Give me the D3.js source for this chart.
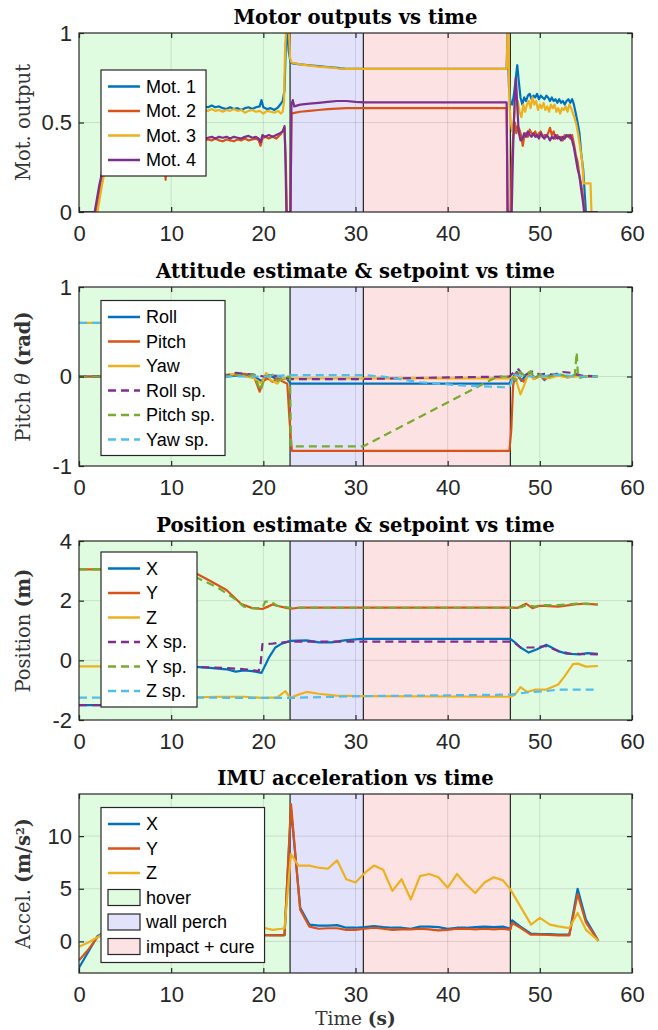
<!DOCTYPE html>
<html><head><meta charset="utf-8">
<script src="https://cdn.jsdelivr.net/npm/d3@7"></script>
<style>body{margin:0;background:#fff} svg{display:block}</style>
</head><body>
<svg id="chart" width="658" height="1030"></svg>
<script>
// ---------------- DATA ----------------
const timeTicks = [0,10,20,30,40,50,60];
const timeTickLabels = ["0","10","20","30","40","50","60"];
const phaseNames = ["hover","wall perch","impact + cure"];
const phaseSpans = [[0,22.9,"hover"],[22.9,30.85,"wall perch"],[30.85,46.8,"impact + cure"],[46.8,60,"hover"]];
const phaseBounds = [22.9,30.85,46.8];

const titles = ["Motor outputs vs time","Attitude estimate & setpoint vs time","Position estimate & setpoint vs time","IMU acceleration vs time"];

// Panel 1: motor outputs
const motorNames = ["Mot. 1","Mot. 2","Mot. 3","Mot. 4"];
const motorTicks = [0,0.5,1];
const motorTickLabels = ["0","0.5","1"];
const mot1 = [[0,0],[1.8,0],[2.3,0.15],[2.8,0.3],[3.5,0.48],[4.5,0.56],[6,0.58],[8,0.58],[10,0.59],[12,0.58],[13.2,0.585],[13.6,0.59],[14,0.585],[14.4,0.595],[14.8,0.585],[15.2,0.59],[15.6,0.58],[16,0.575],[16.4,0.585],[16.8,0.575],[17.2,0.58],[17.6,0.57],[18,0.58],[18.4,0.585],[18.8,0.575],[19.2,0.585],[19.6,0.59],[19.8,0.625],[20,0.585],[20.4,0.575],[20.8,0.58],[21.2,0.57],[21.6,0.585],[21.9,0.605],[22.1,0.62],[22.3,0.68],[22.45,0.95],[22.6,1.0],[22.75,0.9],[22.95,0.835],[23.2,0.83],[24,0.825],[25,0.82],[26,0.815],[27,0.81],[28,0.805],[29,0.8],[30,0.8],[46.4,0.8],[46.5,1.0],[46.65,0.7],[46.8,0.62],[47.0,0.6],[47.2,0.66],[47.4,0.75],[47.55,0.82],[47.7,0.74],[47.9,0.64],[48.1,0.6],[48.3,0.64],[48.5,0.62],[48.7,0.65],[48.9,0.66],[49.1,0.63],[49.3,0.65],[49.5,0.64],[49.7,0.66],[49.9,0.63],[50.1,0.65],[50.3,0.64],[50.5,0.63],[50.7,0.65],[50.9,0.64],[51.1,0.62],[51.3,0.64],[51.5,0.62],[51.7,0.63],[51.9,0.61],[52.1,0.63],[52.3,0.61],[52.5,0.62],[52.7,0.6],[52.9,0.62],[53.1,0.63],[53.3,0.61],[53.5,0.63],[53.7,0.6],[53.9,0.55],[54.1,0.5],[54.3,0.44],[54.5,0.32],[54.7,0.24],[54.85,0.12],[55.0,0.0],[56.3,0]];
const mot2 = [[0,0],[1.8,0],[2.4,0.15],[3.0,0.3],[3.6,0.38],[5,0.4],[7,0.4],[9,0.4],[9.3,0.3],[9.4,0.18],[9.5,0.35],[10,0.4],[12,0.4],[13.6,0.4],[14,0.405],[14.4,0.4],[14.8,0.41],[15.2,0.4],[15.6,0.395],[16,0.405],[16.4,0.4],[16.8,0.395],[17.2,0.405],[17.6,0.4],[18,0.41],[18.4,0.4],[18.8,0.405],[19.2,0.41],[19.5,0.4],[19.7,0.37],[19.9,0.41],[20.2,0.42],[20.6,0.41],[21,0.42],[21.4,0.41],[21.8,0.43],[22.1,0.45],[22.3,0.47],[22.45,0.25],[22.55,0.0],[22.95,0.0],[23.05,0.55],[23.5,0.555],[24,0.56],[25,0.565],[26,0.57],[27,0.575],[28,0.578],[29,0.58],[30,0.58],[46.4,0.58],[46.5,0.0],[46.85,0.0],[46.95,0.25],[47.1,0.42],[47.3,0.5],[47.45,0.44],[47.6,0.48],[47.8,0.46],[48.0,0.42],[48.15,0.37],[48.3,0.42],[48.5,0.44],[48.7,0.42],[48.9,0.46],[49.1,0.44],[49.3,0.43],[49.5,0.45],[49.7,0.42],[49.9,0.44],[50.1,0.45],[50.3,0.42],[50.5,0.43],[50.7,0.42],[50.9,0.44],[51.1,0.47],[51.3,0.43],[51.5,0.45],[51.7,0.41],[51.9,0.43],[52.1,0.41],[52.3,0.42],[52.5,0.4],[52.7,0.43],[52.9,0.42],[53.1,0.43],[53.3,0.41],[53.5,0.43],[53.7,0.38],[53.9,0.32],[54.1,0.28],[54.3,0.2],[54.5,0.15],[54.7,0.08],[54.85,0.0],[56.3,0]];
const mot3 = [[0,0],[2.0,0],[2.5,0.15],[3.1,0.32],[3.8,0.47],[4.6,0.55],[6,0.565],[8,0.57],[10,0.57],[12,0.565],[13.6,0.57],[14,0.565],[14.4,0.575],[14.8,0.565],[15.2,0.57],[15.6,0.56],[16,0.57],[16.4,0.565],[16.8,0.575],[17.2,0.565],[17.6,0.57],[18,0.555],[18.4,0.565],[18.8,0.57],[19.2,0.56],[19.6,0.565],[20,0.55],[20.4,0.565],[20.8,0.56],[21.2,0.555],[21.6,0.565],[21.9,0.55],[22.1,0.56],[22.25,0.62],[22.35,0.9],[22.45,1.0],[22.8,1.0],[22.9,0.86],[23.05,0.835],[24,0.825],[25,0.818],[26,0.812],[27,0.808],[28,0.803],[29,0.8],[30,0.8],[46.4,0.8],[46.5,1.0],[46.6,1.0],[46.7,0.6],[46.85,0.5],[47.0,0.45],[47.2,0.52],[47.4,0.6],[47.6,0.62],[47.8,0.56],[48.0,0.53],[48.2,0.6],[48.4,0.56],[48.6,0.6],[48.8,0.62],[49.0,0.58],[49.2,0.64],[49.4,0.6],[49.6,0.62],[49.8,0.57],[50.0,0.6],[50.2,0.58],[50.4,0.61],[50.6,0.57],[50.8,0.59],[51.0,0.56],[51.2,0.6],[51.4,0.58],[51.6,0.6],[51.8,0.56],[52.0,0.58],[52.2,0.55],[52.4,0.58],[52.6,0.57],[52.8,0.59],[53.0,0.56],[53.2,0.6],[53.4,0.58],[53.6,0.55],[53.8,0.52],[54.0,0.48],[54.2,0.42],[54.4,0.35],[54.6,0.28],[54.75,0.16],[55.5,0.16],[55.6,0.0],[56.3,0]];
const mot4 = [[0,0],[1.7,0],[2.2,0.15],[2.7,0.27],[3.3,0.36],[4.3,0.4],[6,0.41],[8,0.41],[10,0.41],[12,0.41],[13.6,0.41],[14,0.415],[14.4,0.42],[14.8,0.41],[15.2,0.42],[15.6,0.415],[16,0.42],[16.4,0.41],[16.8,0.42],[17.2,0.415],[17.6,0.41],[18,0.42],[18.4,0.425],[18.8,0.415],[19.2,0.42],[19.5,0.41],[19.7,0.39],[19.9,0.43],[20.2,0.42],[20.6,0.43],[21,0.42],[21.4,0.43],[21.8,0.44],[22.1,0.45],[22.3,0.48],[22.4,0.3],[22.5,0.0],[22.95,0.0],[23.05,0.6],[23.2,0.625],[23.35,0.59],[24,0.6],[25,0.605],[26,0.61],[27,0.615],[28,0.62],[29,0.62],[30,0.615],[31,0.612],[46.4,0.612],[46.5,0.0],[46.95,0.0],[47.1,0.35],[47.25,0.6],[47.4,0.75],[47.55,0.6],[47.7,0.45],[47.9,0.4],[48.1,0.41],[48.3,0.44],[48.5,0.42],[48.7,0.45],[48.9,0.43],[49.1,0.42],[49.3,0.44],[49.5,0.42],[49.7,0.43],[49.9,0.41],[50.1,0.44],[50.3,0.42],[50.5,0.41],[50.7,0.43],[50.9,0.42],[51.1,0.4],[51.3,0.42],[51.5,0.41],[51.7,0.43],[51.9,0.41],[52.1,0.42],[52.3,0.4],[52.5,0.42],[52.7,0.41],[52.9,0.43],[53.1,0.42],[53.3,0.43],[53.5,0.4],[53.7,0.36],[53.9,0.3],[54.1,0.24],[54.3,0.2],[54.5,0.12],[54.7,0.05],[54.8,0.0],[56.3,0]];

// Panel 2: attitude
const attNames = ["Roll","Pitch","Yaw","Roll sp.","Pitch sp.","Yaw sp."];
const attTicks = [-1,0,1];
const attTickLabels = ["-1","0","1"];
const roll = [[0,0],[16,0],[17,0.01],[18,0.02],[19,0.0],[19.8,-0.05],[20.5,0.02],[21.5,-0.03],[22.5,-0.02],[23,-0.08],[46.7,-0.08],[47,-0.02],[47.5,0.05],[48,-0.05],[48.5,0.02],[49,0.03],[49.5,-0.02],[50,0.02],[50.5,-0.04],[51,0.01],[52,0.02],[53,0.0],[54,0.01],[55,0],[56.3,0]];
const pitch = [[0,0],[16,0],[17,0.02],[18,0.03],[19,0.0],[19.6,-0.17],[20,-0.05],[20.5,-0.02],[21,-0.06],[21.5,-0.02],[22,-0.05],[22.6,-0.08],[22.85,-0.5],[23.1,-0.83],[46.7,-0.83],[46.9,-0.6],[47.1,-0.1],[47.4,0.04],[47.8,-0.02],[48.3,-0.06],[48.8,0.03],[49.3,-0.02],[50,0.01],[50.5,-0.03],[51,0.0],[52,0.02],[53,-0.01],[54,0.01],[55,0],[56.3,0]];
const yaw = [[0,0.6],[3.5,0.6],[4,0.02],[16,0.02],[17,0.03],[18,0.0],[19,-0.02],[19.8,-0.08],[20.3,0.04],[20.8,-0.04],[21.5,-0.08],[22,-0.02],[23,-0.02],[46.7,-0.02],[47.3,0.0],[47.9,-0.2],[48.3,-0.1],[48.8,0.05],[49.3,-0.03],[50,0.0],[51,-0.02],[52,0.01],[53,-0.01],[54,0.0],[56.3,0]];
const rollSp = [[0,0],[16,0.01],[17,0.04],[18,0.03],[19,0.02],[20,0.0],[21,0.01],[22,0.0],[23,-0.03],[30,-0.03],[35,-0.02],[40,-0.01],[46.7,0.0],[47.3,0.06],[47.7,0.08],[48.2,0.0],[48.8,0.04],[49.3,0.06],[50,0.02],[50.5,0.03],[51.5,0.02],[52.5,0.05],[53.5,0.04],[54.5,0.01],[56.3,0]];
const pitchSp = [[0,0],[16,0],[17,0.02],[18,0.0],[19,0.02],[19.7,-0.16],[20.2,0.0],[21,0.02],[21.5,-0.05],[22.5,0.0],[22.9,0.0],[23.0,-0.78],[30.85,-0.78],[45.4,0.0],[47,0.0],[47.4,-0.05],[47.8,0.05],[48.5,0.0],[49,0.06],[49.5,-0.02],[50,0.02],[51,0.0],[52,0.03],[53,0.0],[53.8,0.02],[54.0,0.27],[54.15,-0.02],[55,0],[56.3,0]];
const yawSp = [[0,0.6],[3.5,0.6],[4,0.0],[16,0],[20,0],[23,0.015],[30.9,0.015],[33,0.0],[37,-0.064],[41.5,-0.1],[46.1,-0.12],[46.7,-0.12],[47.2,0.02],[48,0.0],[50,0.0],[52,0.02],[54,0.0],[56.3,0]];

// Panel 3: position
const posNames = ["X","Y","Z","X sp.","Y sp.","Z sp."];
const posTicks = [-2,0,2,4];
const posTickLabels = ["-2","0","2","4"];
const posX = [[0,-1.5],[4,-1.5],[6,-0.5],[8,-0.2],[12.67,-0.22],[14.2,-0.25],[16,-0.3],[17,-0.38],[17.9,-0.34],[18.8,-0.36],[19.8,-0.42],[20.6,0.09],[21.3,0.43],[22,0.56],[22.9,0.65],[24.7,0.67],[26,0.6],[27.4,0.6],[28.8,0.67],[30.6,0.72],[46.8,0.72],[47.3,0.6],[47.9,0.43],[48.8,0.26],[49.7,0.37],[50.7,0.52],[52,0.31],[52.9,0.22],[54.3,0.2],[55.2,0.24],[56.3,0.22]];
const posY = [[0,3.05],[10,3.05],[12.67,2.92],[14.2,2.67],[16,2.36],[17.6,1.89],[18.8,1.75],[19.9,1.72],[20.5,1.8],[21,1.87],[21.6,1.82],[22.5,1.76],[23,1.73],[24,1.77],[46.8,1.77],[47.6,1.76],[48.5,1.9],[49.2,1.75],[50,1.83],[51,1.82],[52,1.8],[53,1.84],[54,1.88],[55,1.9],[56.3,1.87]];
const posZ = [[0,-0.2],[3,-0.2],[5,-1.2],[12.67,-1.24],[15,-1.22],[18,-1.22],[19.9,-1.26],[21.5,-1.24],[22.4,-1.03],[22.9,-1.26],[23.8,-1.15],[24.7,-1.06],[26,-1.12],[27.9,-1.18],[30.6,-1.2],[46.8,-1.22],[47.3,-1.15],[47.9,-0.9],[48.6,-1.06],[49.5,-0.98],[50.7,-0.98],[52,-0.81],[52.7,-0.53],[53.6,-0.13],[54.1,-0.11],[55,-0.21],[56.3,-0.19]];
const posXSp = [[0,-1.5],[3,-1.5],[3.5,-0.22],[12.67,-0.22],[16,-0.26],[18,-0.3],[19.5,-0.36],[19.7,-0.13],[19.9,0.54],[21,0.56],[22.9,0.63],[46.8,0.63],[47.2,0.6],[47.9,0.43],[49.3,0.43],[50.7,0.48],[52,0.31],[53.4,0.22],[56.3,0.2]];
const posYSp = [[0,3.05],[10,3.05],[12.85,2.76],[15.1,2.43],[16.9,2.06],[17.9,1.8],[18.8,1.75],[19.9,1.75],[20.2,1.97],[20.8,1.97],[21.5,1.83],[22.9,1.76],[46.8,1.76],[48,1.78],[48.5,1.85],[49.5,1.8],[50,1.85],[52,1.85],[54,1.9],[56.3,1.88]];
const posZSp = [[0,-1.25],[12.67,-1.25],[20,-1.26],[22.9,-1.26],[30.6,-1.2],[46.8,-1.15],[48.8,-1.07],[50.7,-1.03],[52,-0.98],[56.3,-0.98]];

// Panel 4: IMU acceleration
const accNames = ["X","Y","Z"];
const accTicks = [0,5,10];
const accTickLabels = ["0","5","10"];
const accX = [[0,-2.5],[1,-1.0],[2,0.5],[3,1.0],[5,0.8],[10,0.9],[15,0.8],[20,0.6],[21,0.6],[22,0.6],[22.3,0.6],[23,12.6],[24,3.2],[25,1.6],[26,1.5],[27,1.5],[28,1.55],[29,1.3],[30,1.3],[31,1.35],[32,1.45],[33,1.35],[34,1.3],[35,1.3],[36,1.2],[37,1.4],[38,1.4],[39,1.35],[40,1.2],[41,1.3],[42,1.3],[43,1.35],[44,1.4],[45,1.35],[46,1.4],[46.8,1.2],[47,2.0],[47.9,1.4],[49,0.75],[50,0.7],[51,0.7],[52,0.65],[53.2,0.65],[54.1,5.0],[55,2.07],[56.35,0.05]];
const accY = [[0,-1.8],[1,-0.8],[2,0.4],[3,0.9],[5,0.7],[10,0.8],[15,0.7],[20,0.6],[21,0.57],[22,0.57],[22.3,0.6],[23,13.05],[24,3.0],[25,1.4],[26,1.2],[27,1.25],[28,1.25],[29,1.1],[30,1.1],[31,1.2],[32,1.3],[33,1.2],[34,1.1],[35,1.15],[36,1.15],[37,1.2],[38,1.15],[39,1.05],[40,1.1],[41,1.2],[42,1.2],[43,1.15],[44,1.2],[45,1.15],[46,1.2],[46.8,1.1],[47,1.75],[47.9,1.3],[49,0.65],[50,0.64],[51,0.62],[52,0.58],[53.2,0.58],[54.1,4.5],[55,1.8],[56.35,0.05]];
const accZ = [[0,-0.5],[1,-0.1],[2,0.4],[3,0.9],[5,1.0],[10,1.1],[15,1.2],[20,1.3],[21,1.1],[22,1.2],[22.3,1.25],[23,8.3],[23.8,7.2],[25,7.2],[26,7.0],[27,6.9],[28,7.7],[29,5.9],[30,5.6],[31,6.5],[32,7.2],[33,6.8],[34,4.8],[35,5.9],[36,4.0],[37,6.2],[38,6.4],[39,6.1],[40,5.1],[41,6.4],[42,5.4],[43,4.6],[44,5.6],[45,6.1],[46,5.8],[46.8,4.94],[47.9,3.3],[49.05,1.6],[50,2.23],[51.1,1.6],[52,1.43],[53.2,1.27],[54.1,2.7],[55,1.1],[56.35,0.06]];

// ---------------- STYLE / LAYOUT ----------------
const C = ["#0072BD","#D95319","#EDB120","#7E2F8E","#77AC30","#4DBEEE"];
const phaseColor = {"hover":"#e0fce0","wall perch":"#e2e2fb","impact + cure":"#fde2e4"};
const axisColor = "#262626";
const W = 658, plotLeft = 79, plotRight = 632, plotH = 179;
const panelTops = [33, 287, 541, 794];
const legendTops = [70, 300.5, 552, 807.5];
const tickFont = "'Liberation Sans', Arial, sans-serif";
const serif = "'DejaVu Serif', serif";

const panels = [
  {title:titles[0], ylab:[{t:"Mot. output"}], dom:[0,1], ticks:motorTicks, labels:motorTickLabels,
   series:[mot1,mot2,mot3,mot4], names:motorNames, colors:[C[0],C[1],C[2],C[3]], dash:[0,0,0,0], patches:false},
  {title:titles[1], ylab:[{t:"Pitch "},{t:"θ",it:true},{t:" (rad)",b:true}], dom:[-1,1], ticks:attTicks, labels:attTickLabels,
   series:[roll,pitch,yaw,rollSp,pitchSp,yawSp], names:attNames, colors:[C[0],C[1],C[2],C[3],C[4],C[5]], dash:[0,0,0,1,1,1], patches:false},
  {title:titles[2], ylab:[{t:"Position "},{t:"(m)",b:true}], dom:[-2,4], ticks:posTicks, labels:posTickLabels,
   series:[posX,posY,posZ,posXSp,posYSp,posZSp], names:posNames, colors:[C[0],C[1],C[2],C[3],C[4],C[5]], dash:[0,0,0,1,1,1], patches:false},
  {title:titles[3], ylab:[{t:"Accel. "},{t:"(m/s",b:true},{t:"2",b:true,sup:true},{t:")",b:true}], dom:[-3,14], ticks:accTicks, labels:accTickLabels,
   series:[accX,accY,accZ], names:accNames, colors:[C[0],C[1],C[2]], dash:[0,0,0], patches:true}
];

const svg = d3.select("#chart");
const x = d3.scaleLinear().domain([0,60]).range([plotLeft, plotRight]);

panels.forEach((p, i) => {
  const top = panelTops[i];
  const y = d3.scaleLinear().domain(p.dom).range([top + plotH, top]);
  const g = svg.append("g");

  g.selectAll("rect.phase").data(phaseSpans).join("rect")
    .attr("x", d => x(d[0])).attr("y", top)
    .attr("width", d => x(d[1]) - x(d[0])).attr("height", plotH)
    .attr("fill", d => phaseColor[d[2]]);

  g.selectAll("line.gx").data(timeTicks.slice(1,-1)).join("line")
    .attr("x1", d => x(d)).attr("x2", d => x(d)).attr("y1", top).attr("y2", top + plotH)
    .attr("stroke", axisColor).attr("stroke-opacity", 0.13).attr("stroke-width", 1);
  g.selectAll("line.gy").data(p.ticks.filter(t => t > p.dom[0] && t < p.dom[1])).join("line")
    .attr("x1", plotLeft).attr("x2", plotRight).attr("y1", d => y(d)).attr("y2", d => y(d))
    .attr("stroke", axisColor).attr("stroke-opacity", 0.13).attr("stroke-width", 1);

  g.selectAll("line.pb").data(phaseBounds).join("line")
    .attr("x1", d => x(d)).attr("x2", d => x(d)).attr("y1", top).attr("y2", top + plotH)
    .attr("stroke", "#111").attr("stroke-width", 1.1);

  const cid = "clip" + i;
  svg.append("clipPath").attr("id", cid).append("rect")
    .attr("x", plotLeft).attr("y", top).attr("width", plotRight - plotLeft).attr("height", plotH);

  const line = d3.line().x(d => x(d[0])).y(d => y(d[1]));
  const lg = g.append("g").attr("clip-path", `url(#${cid})`);
  p.series.forEach((s, k) => {
    lg.append("path").attr("d", line(s)).attr("fill", "none")
      .attr("stroke", p.colors[k]).attr("stroke-width", 2.2)
      .attr("stroke-linejoin", "round")
      .attr("stroke-dasharray", p.dash[k] ? "8,5" : null);
  });

  g.append("rect").attr("x", plotLeft).attr("y", top).attr("width", plotRight - plotLeft).attr("height", plotH)
    .attr("fill", "none").attr("stroke", axisColor).attr("stroke-width", 1.2);

  const xb = g.append("g").attr("transform", `translate(0,${top + plotH})`)
    .call(d3.axisBottom(x).tickValues(timeTicks).tickFormat((d, j) => timeTickLabels[j]).tickSize(-5).tickPadding(13));
  const xt = g.append("g").attr("transform", `translate(0,${top})`)
    .call(d3.axisTop(x).tickValues(timeTicks).tickFormat("").tickSize(-5));
  const yl = g.append("g").attr("transform", `translate(${plotLeft},0)`)
    .call(d3.axisLeft(y).tickValues(p.ticks).tickFormat((d, j) => p.labels[j]).tickSize(-5).tickPadding(7));
  const yr = g.append("g").attr("transform", `translate(${plotRight},0)`)
    .call(d3.axisRight(y).tickValues(p.ticks).tickFormat("").tickSize(-5));
  [xb, xt, yl, yr].forEach(a => {
    a.select(".domain").remove();
    a.selectAll(".tick line").attr("stroke", axisColor).attr("stroke-width", 1.2);
    a.selectAll(".tick text").attr("fill", axisColor).style("font-family", tickFont).style("font-size", "22px");
  });

  g.append("text").attr("class", "ptitle").attr("x", (plotLeft + plotRight) / 2).attr("y", top - 9)
    .attr("text-anchor", "middle").style("font-family", serif).style("font-weight", "bold")
    .style("font-size", "17px").attr("fill", "#000").text(p.title);

  const cy = top + plotH / 2;
  const yt = g.append("text").attr("class", "ylab")
    .attr("transform", `translate(23,${cy}) rotate(-90)`).attr("text-anchor", "middle").attr("dy", "0.35em")
    .style("font-family", serif).style("font-size", "16px").attr("fill", "#333");
  p.ylab.forEach(part => {
    const ts = yt.append("tspan").text(part.t);
    if (part.b) ts.style("font-weight", "bold");
    if (part.it) ts.style("font-style", "italic");
    if (part.sup) ts.attr("baseline-shift", "super").style("font-size", "11px");
  });

  const lx = 101, ltop = legendTops[i];
  const entries = p.names.map((n, k) => ({name: n, color: p.colors[k], dash: p.dash[k], patch: null}));
  if (p.patches) phaseNames.forEach(n => entries.push({name: n, color: phaseColor[n], patch: true}));
  const leg = g.append("g");
  const box = leg.append("rect").attr("x", lx).attr("y", ltop).attr("fill", "#fff")
    .attr("stroke", axisColor).attr("stroke-width", 1.2);
  let maxW = 0;
  entries.forEach((e, k) => {
    const ey = ltop + 16.5 + k * 24.5;
    if (e.patch) {
      leg.append("rect").attr("x", 108).attr("y", ey - 8).attr("width", 32).attr("height", 16)
        .attr("fill", e.color).attr("stroke", axisColor).attr("stroke-width", 1.2);
    } else {
      leg.append("line").attr("x1", 108).attr("x2", 140).attr("y1", ey).attr("y2", ey)
        .attr("stroke", e.color).attr("stroke-width", 2.5)
        .attr("stroke-dasharray", e.dash ? "8,5" : null);
    }
    const t = leg.append("text").attr("x", 146).attr("y", ey).attr("dy", "0.35em")
      .style("font-family", tickFont).style("font-size", "18px").attr("fill", "#000").text(e.name);
    maxW = Math.max(maxW, t.node().getComputedTextLength());
  });
  box.attr("width", 146 + maxW + 10 - lx).attr("height", entries.length * 24.5 + 8);
});

(function fit() {
  const tNodes = svg.selectAll("text.ptitle").nodes();
  const tw = tNodes[1].getComputedTextLength();
  const ts = 17 * 399 / tw;
  tNodes.forEach(n => n.style.fontSize = ts + "px");
  const yNodes = svg.selectAll("text.ylab").nodes();
  const yw = yNodes[2].getComputedTextLength();
  const ys = 16 * 124 / yw;
  yNodes.forEach(n => n.style.fontSize = ys + "px");
})();

const xl = svg.append("text").attr("x", (plotLeft + plotRight) / 2).attr("y", 1025)
  .attr("text-anchor", "middle").style("font-family", serif).style("font-size", "18.5px").attr("fill", "#333");
xl.append("tspan").text("Time ");
xl.append("tspan").style("font-weight", "bold").text("(s)");
</script>
</body></html>
